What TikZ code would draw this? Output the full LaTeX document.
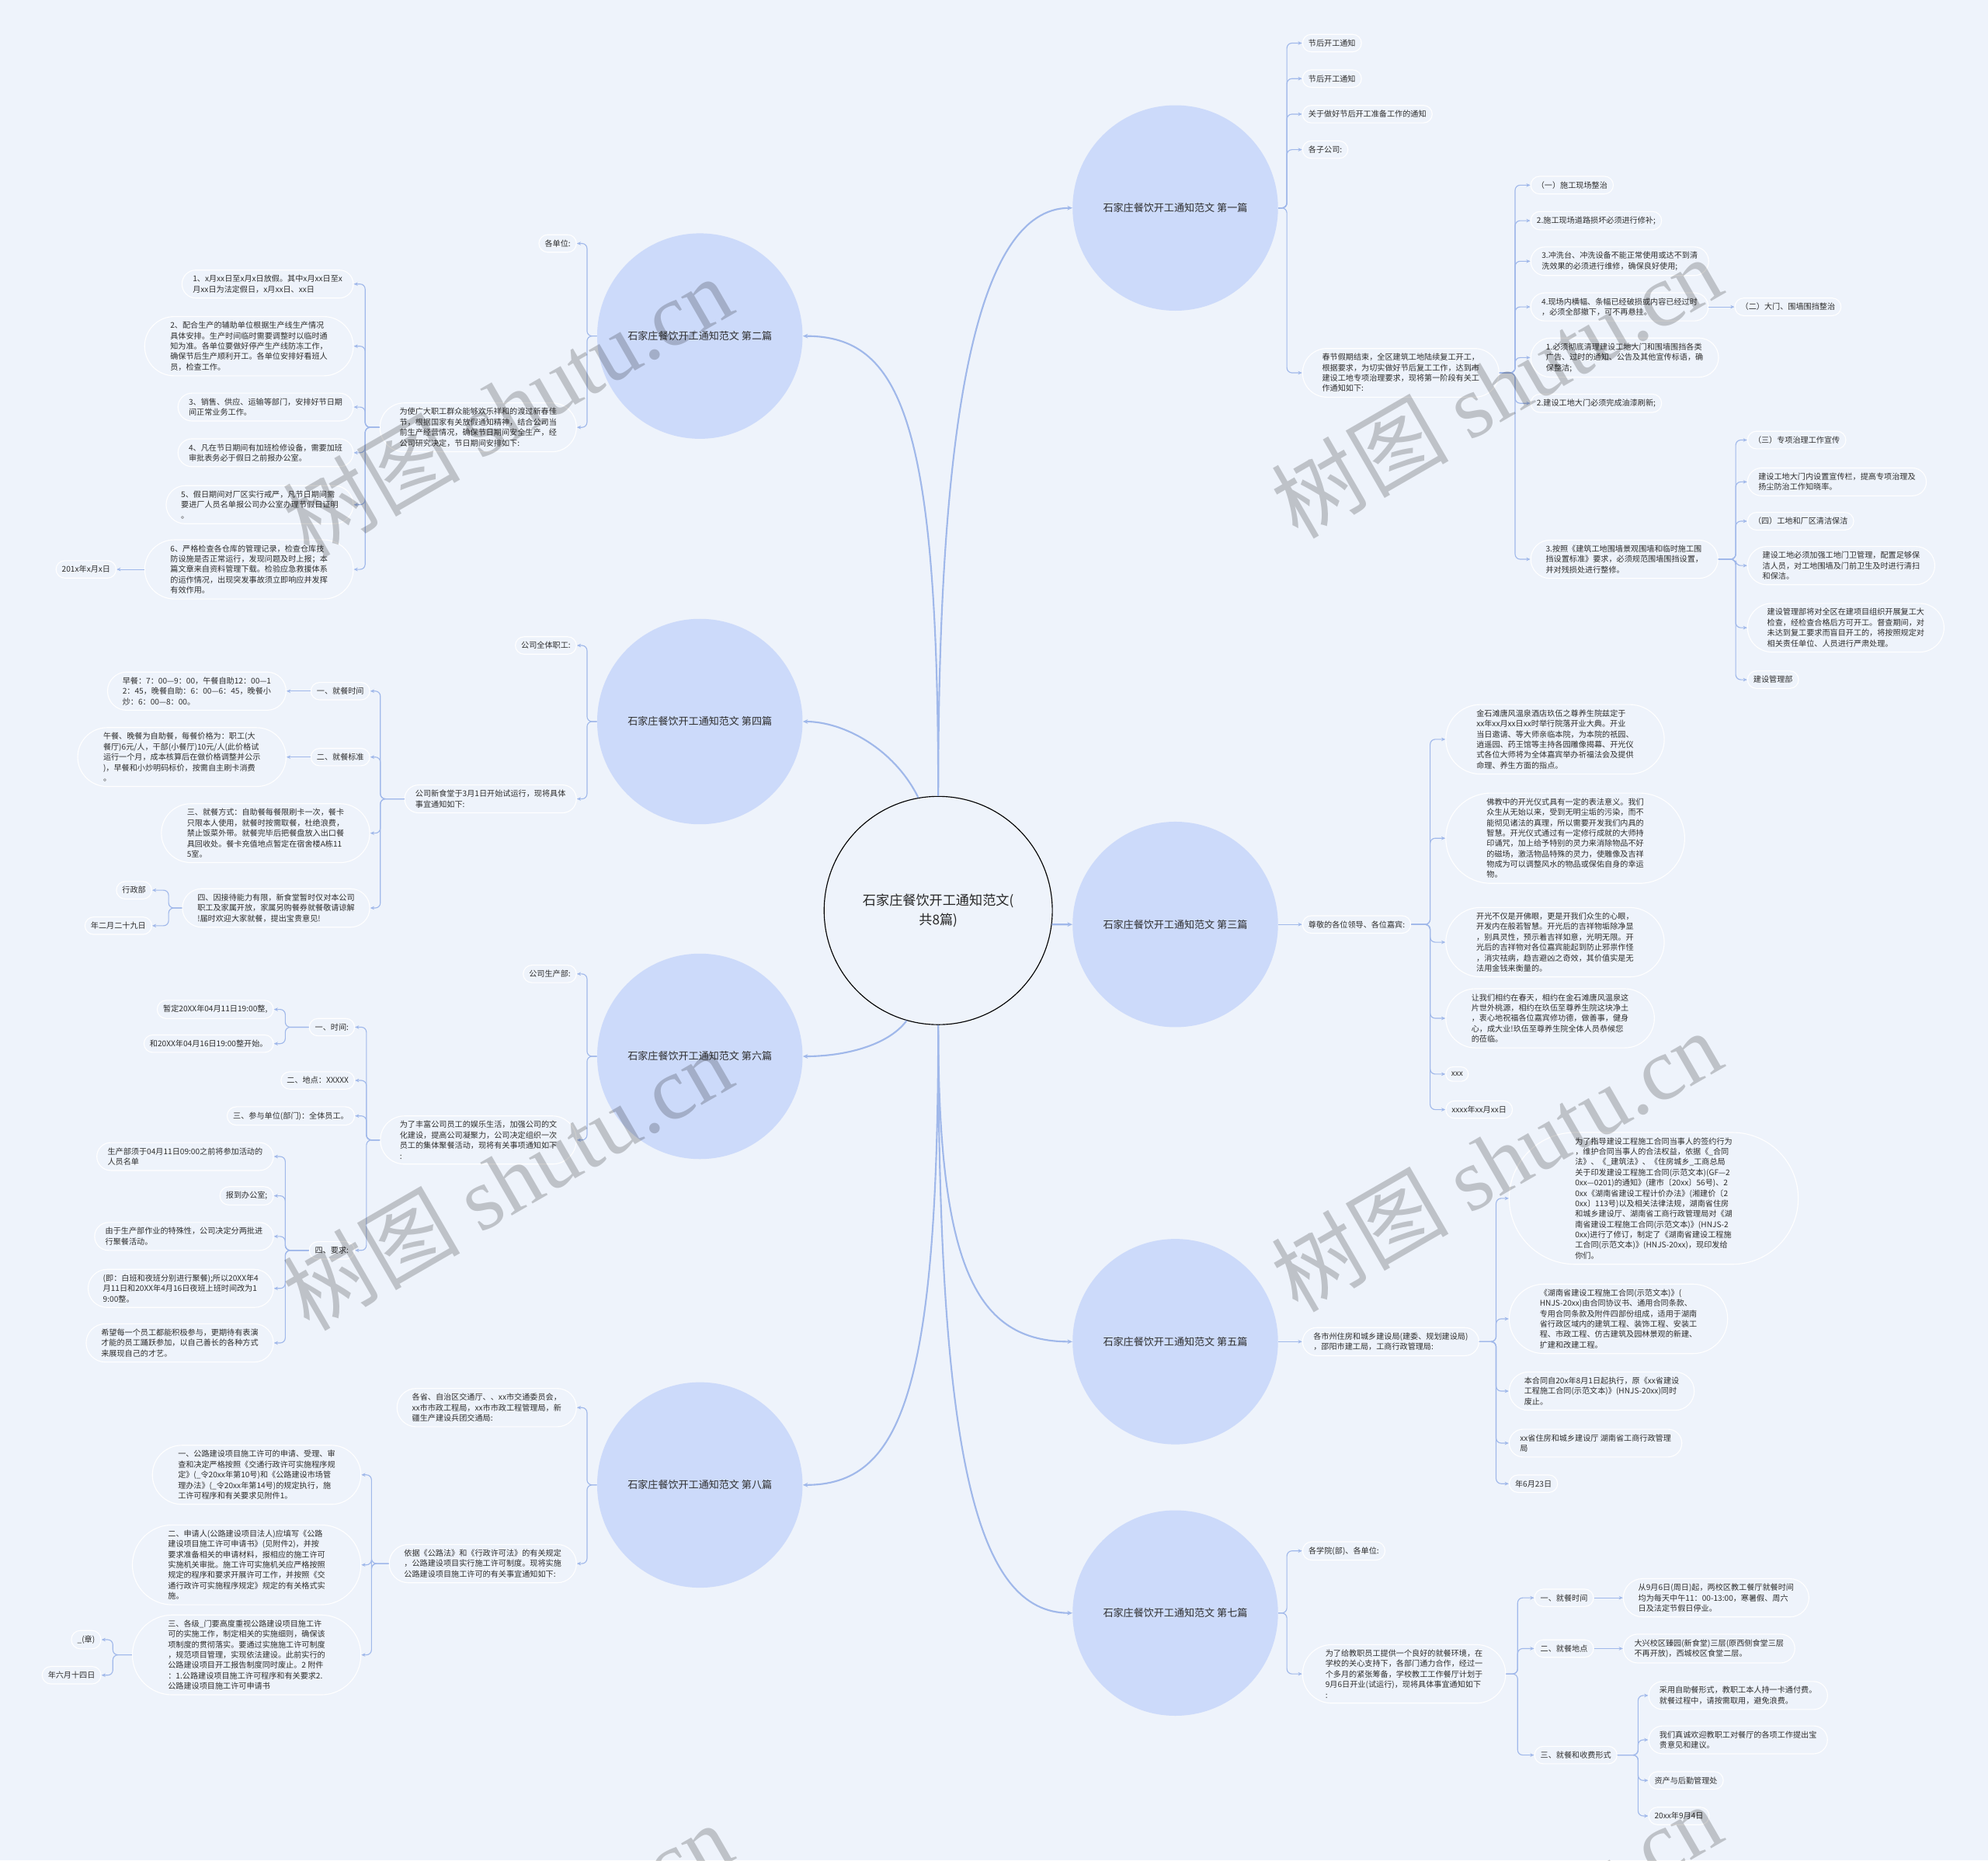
\documentclass[tikz,border=0pt]{standalone}
\usepackage{fontspec}
\setmainfont{Noto Sans CJK SC}
\newfontfamily\wmlatin{Liberation Serif}
\usetikzlibrary{arrows.meta,shapes.misc}
\definecolor{bgc}{HTML}{EEF3FB}
\definecolor{topicc}{HTML}{CCDAFA}
\definecolor{connc}{HTML}{A0B8EA}
\definecolor{txtc}{HTML}{2E2E2E}
\newcommand\leaffont{\fontsize{6.2}{8.2}\selectfont}
\newcommand\topicfont{\fontsize{8}{10}\selectfont}
\newcommand\rootfont{\fontsize{10.5}{15}\selectfont}
\newcommand\brR[3]{\coordinate (sp) at (#1,0); \draw[conn] (#2.east) -- (#2.east -| sp) |- (#3.west);}
\newcommand\brL[3]{\coordinate (sp) at (#1,0); \draw[conn] (#2.west) -- (#2.west -| sp) |- (#3.east);}
\begin{document}
\begin{tikzpicture}[x=1pt,y=-1pt,
 leaf/.style={rounded rectangle, draw=white, line width=0.7pt, fill=bgc, text=txtc, font=\leaffont, align=left, inner xsep=4pt, inner ysep=4pt},
 pad/.style={inner xsep=#1pt},
 rl/.style={leaf, anchor=west},
 ll/.style={leaf, anchor=east},
 topic/.style={circle, fill=topicc, minimum size=162pt, inner sep=0pt, font=\topicfont, text=txtc},
 root/.style={circle, draw=black, line width=0.7pt, fill=bgc, minimum size=180pt, inner sep=0pt, align=center, font=\rootfont, text=black!85},
 conn/.style={draw=connc, line width=0.7pt, rounded corners=4pt, -{Stealth[length=3.2pt,width=2.8pt]}},
 straightconn/.style={draw=connc, line width=0.7pt, -{Stealth[length=3.2pt,width=2.8pt]}},
 mainconn/.style={draw=connc, line width=1.3pt, -{Stealth[length=4pt,width=3.5pt]}},
 wm/.style={rotate=30, text=black, text opacity=0.2, font=\fontsize{70}{70}\selectfont}
]
\fill[bgc] (0,0) rectangle (1568,1467);
\useasboundingbox (0,0) rectangle (1568,1467);

% root and topics
\node[root] (c) at (740,718) {石家庄餐饮开工通知范文(\\共8篇)};
\node[topic] (t1) at (927,164) {石家庄餐饮开工通知范文 第一篇};
\node[topic] (t3) at (927,729) {石家庄餐饮开工通知范文 第三篇};
\node[topic] (t5) at (927,1058) {石家庄餐饮开工通知范文 第五篇};
\node[topic] (t7) at (927,1272) {石家庄餐饮开工通知范文 第七篇};
\node[topic] (t2) at (552,265) {石家庄餐饮开工通知范文 第二篇};
\node[topic] (t4) at (552,569) {石家庄餐饮开工通知范文 第四篇};
\node[topic] (t6) at (552,833) {石家庄餐饮开工通知范文 第六篇};
\node[topic] (t8) at (552,1171) {石家庄餐饮开工通知范文 第八篇};

\draw[mainconn] (c.north) .. controls (740,330) and (770,164) .. (t1.west);
\draw[mainconn] (c.north) .. controls (740,330) and (710,265) .. (t2.east);
\draw[mainconn] (c.-7) -- (t3.west);
\draw[mainconn] (c.100) .. controls (705,590) and (665,569) .. (t4.east);
\draw[mainconn] (c.south) .. controls (740,1000) and (770,1058) .. (t5.west);
\draw[mainconn] (c.254) .. controls (700,825) and (665,833) .. (t6.east);
\draw[mainconn] (c.south) .. controls (740,1150) and (770,1272) .. (t7.west);
\draw[mainconn] (c.south) .. controls (740,1100) and (710,1171) .. (t8.east);

% ---------- 第一篇 ----------
\node[rl] (a1) at (1027,34) {节后开工通知};
\node[rl] (a2) at (1027,62) {节后开工通知};
\node[rl] (a3) at (1027,90) {关于做好节后开工准备工作的通知};
\node[rl] (a4) at (1027,118) {各子公司:};
\node[rl,pad=8] (a5) at (1027,294) {春节假期结束，全区建筑工地陆续复工开工，\\根据要求，为切实做好节后复工工作，达到市\\建设工地专项治理要求，现将第一阶段有关工\\作通知如下:};
\node[rl] (b1) at (1207,146) {（一）施工现场整治};
\node[rl] (b2) at (1207,174) {2.施工现场道路损坏必须进行修补;};
\node[rl,pad=6] (b3) at (1207,206) {3.冲洗台、冲洗设备不能正常使用或达不到清\\洗效果的必须进行维修，确保良好使用;};
\node[rl,pad=6] (b4) at (1207,242) {4.现场内横幅、条幅已经破损或内容已经过时\\，必须全部撤下，可不再悬挂。};
\node[rl] (b5) at (1368,242) {（二）大门、围墙围挡整治};
\node[rl,pad=7] (b6) at (1207,282) {1.必须彻底清理建设工地大门和围墙围挡各类\\广告、过时的通知、公告及其他宣传标语，确\\保整洁;};
\node[rl] (b7) at (1207,318) {2.建设工地大门必须完成油漆刷新;};
\node[rl,pad=7] (b8) at (1207,441) {3.按照《建筑工地围墙景观围墙和临时施工围\\挡设置标准》要求，必须规范围墙围挡设置，\\并对残损处进行整修。};
\node[rl] (c1) at (1378,347) {（三）专项治理工作宣传};
\node[rl,pad=6] (c2) at (1378,380) {建设工地大门内设置宣传栏，提高专项治理及\\扬尘防治工作知晓率。};
\node[rl] (c3) at (1378,411) {（四）工地和厂区清洁保洁};
\node[rl,pad=7] (c4) at (1378,446) {建设工地必须加强工地门卫管理，配置足够保\\洁人员，对工地围墙及门前卫生及时进行清扫\\和保洁。};
\node[rl,pad=8] (c5) at (1378,495) {建设管理部将对全区在建项目组织开展复工大\\检查，经检查合格后方可开工。督查期间，对\\未达到复工要求而盲目开工的，将按照规定对\\相关责任单位、人员进行严肃处理。};
\node[rl] (c6) at (1378,536) {建设管理部};
\foreach \n in {a1,a2,a3,a4,a5} {\brR{1015}{t1}{\n}}
\foreach \n in {b1,b2,b3,b4,b6,b7,b8} {\brR{1195}{a5}{\n}}
\draw[straightconn] (b4.east) -- (b5.west);
\foreach \n in {c1,c2,c3,c4,c5,c6} {\brR{1369}{b8}{\n}}

% ---------- 第三篇 ----------
\node[rl] (d0) at (1027,729) {尊敬的各位领导、各位嘉宾:};
\node[rl,pad=11] (d1) at (1140,583) {金石滩唐风温泉酒店玖伍之尊养生院兹定于\\xx年xx月xx日xx时举行院落开业大典。开业\\当日邀请、等大师亲临本院，为本院的祇园、\\逍遥园、药王馆等主持各园雕像揭幕、开光仪\\式各位大师将为全体嘉宾举办祈福法会及提供\\命理、养生方面的指点。};
\node[rl,pad=13] (d2) at (1140,661) {佛教中的开光仪式具有一定的表法意义。我们\\众生从无始以来，受到无明尘垢的污染，而不\\能彻见诸法的真理，所以需要开发我们内具的\\智慧。开光仪式通过有一定修行成就的大师持\\印诵咒，加上给予特别的灵力来消除物品不好\\的磁场，激活物品特殊的灵力，使雕像及吉祥\\物成为可以调整风水的物品或保佑自身的幸运\\物。};
\node[rl,pad=11] (d3) at (1140,743) {开光不仅是开佛眼，更是开我们众生的心眼，\\开发内在般若智慧。开光后的吉祥物垢除净显\\，别具灵性，预示着吉祥如意，光明无限。开\\光后的吉祥物对各位嘉宾能起到防止邪祟作怪\\，消灾祛病，趋吉避凶之奇效，其价值实是无\\法用金钱来衡量的。};
\node[rl,pad=10] (d4) at (1140,803) {让我们相约在春天，相约在金石滩唐风温泉这\\片世外桃源，相约在玖伍至尊养生院这块净土\\，衷心地祝福各位嘉宾修功德，做善事，健身\\心，成大业!玖伍至尊养生院全体人员恭候您\\的莅临。};
\node[rl] (d5) at (1140,847) {xxx};
\node[rl] (d6) at (1140,875) {xxxx年xx月xx日};
\draw[straightconn] (t3.east) -- (d0.west);
\foreach \n in {d1,d2,d3,d4,d5,d6} {\brR{1128}{d0}{\n}}

% ---------- 第五篇 ----------
\node[rl,pad=6] (e0) at (1027,1058) {各市州住房和城乡建设局(建委、规划建设局)\\，邵阳市建工局，工商行政管理局:};
\node[rl,pad=20] (e1) at (1190,945) {为了指导建设工程施工合同当事人的签约行为\\，维护合同当事人的合法权益，依据《\_合同\\法》、《\_建筑法》、《住房城乡\_工商总局\\关于印发建设工程施工合同(示范文本)(GF—2\\0xx—0201)的通知》(建市〔20xx〕56号)、2\\0xx《湖南省建设工程计价办法》(湘建价〔2\\0xx〕113号)以及相关法律法规，湖南省住房\\和城乡建设厅、湖南省工商行政管理局对《湖\\南省建设工程施工合同(示范文本)》(HNJS-2\\0xx)进行了修订，制定了《湖南省建设工程施\\工合同(示范文本)》(HNJS-20xx)，现印发给\\你们。};
\node[rl,pad=11] (e2) at (1190,1040) {《湖南省建设工程施工合同(示范文本)》(\\HNJS-20xx)由合同协议书、通用合同条款、\\专用合同条款及附件四部份组成，适用于湖南\\省行政区域内的建筑工程、装饰工程、安装工\\程、市政工程、仿古建筑及园林景观的新建、\\扩建和改建工程。};
\node[rl,pad=7] (e3) at (1190,1097) {本合同自20x年8月1日起执行，原《xx省建设\\工程施工合同(示范文本)》(HNJS-20xx)同时\\废止。};
\node[rl,pad=6] (e4) at (1190,1138) {xx省住房和城乡建设厅 湖南省工商行政管理\\局};
\node[rl] (e5) at (1190,1170) {年6月23日};
\draw[straightconn] (t5.east) -- (e0.west);
\foreach \n in {e1,e2,e3,e4,e5} {\brR{1180}{e0}{\n}}

% ---------- 第七篇 ----------
\node[rl] (f1) at (1027,1223) {各学院(部)、各单位:};
\node[rl,pad=8] (f2) at (1027,1320) {为了给教职员工提供一个良好的就餐环境，在\\学校的关心支持下，各部门通力合作，经过一\\个多月的紧张筹备，学校教工工作餐厅计划于\\9月6日开业(试运行)，现将具体事宜通知如下\\:};
\node[rl] (g1) at (1210,1260) {一、就餐时间};
\node[rl,pad=7] (g1a) at (1280,1260) {从9月6日(周日)起，两校区教工餐厅就餐时间\\均为每天中午11：00-13:00，寒暑假、周六\\日及法定节假日停业。};
\node[rl] (g2) at (1210,1300) {二、就餐地点};
\node[rl,pad=6] (g2a) at (1280,1300) {大兴校区臻园(新食堂)三层(原西侧食堂三层\\不再开放)，西城校区食堂二层。};
\node[rl] (g3) at (1210,1384) {三、就餐和收费形式};
\node[rl,pad=6] (h1) at (1300,1337) {采用自助餐形式，教职工本人持一卡通付费。\\就餐过程中，请按需取用，避免浪费。};
\node[rl,pad=6] (h2) at (1300,1372) {我们真诚欢迎教职工对餐厅的各项工作提出宝\\贵意见和建议。};
\node[rl] (h3) at (1300,1404) {资产与后勤管理处};
\node[rl] (h4) at (1300,1432) {20xx年9月4日};
\foreach \n in {f1,f2} {\brR{1015}{t7}{\n}}
\foreach \n in {g1,g2,g3} {\brR{1197}{f2}{\n}}
\draw[straightconn] (g1.east) -- (g1a.west);
\draw[straightconn] (g2.east) -- (g2a.west);
\foreach \n in {h1,h2,h3,h4} {\brR{1292}{g3}{\n}}

% ---------- 第二篇 ----------
\node[ll] (i1) at (455,192) {各单位:};
\node[ll,pad=8] (i2) at (455,337) {为使广大职工群众能够欢乐祥和的渡过新春佳\\节，根据国家有关放假通知精神，结合公司当\\前生产经营情况，确保节日期间安全生产，经\\公司研究决定，节日期间安排如下:};
\node[ll,pad=6] (j1) at (279,224) {1、x月xx日至x月x日放假。其中x月xx日至x\\月xx日为法定假日，x月xx日、xx日};
\node[ll,pad=10] (j2) at (279,273) {2、配合生产的辅助单位根据生产线生产情况\\具体安排。生产时间临时需要调整时以临时通\\知为准。各单位要做好停产生产线防冻工作，\\确保节后生产顺利开工。各单位安排好看班人\\员，检查工作。};
\node[ll,pad=6] (j3) at (279,321) {3、销售、供应、运输等部门，安排好节日期\\间正常业务工作。};
\node[ll,pad=6] (j4) at (279,357) {4、凡在节日期间有加班检修设备，需要加班\\审批表务必于假日之前报办公室。};
\node[ll,pad=7] (j5) at (279,398) {5、假日期间对厂区实行戒严，凡节日期间需\\要进厂人员名单报公司办公室办理节假日证明\\。};
\node[ll,pad=10] (j6) at (279,449) {6、严格检查各仓库的管理记录，检查仓库技\\防设施是否正常运行，发现问题及时上报；本\\篇文章来自资料管理下载。检验应急救援体系\\的运作情况，出现突发事故须立即响应并发挥\\有效作用。};
\node[ll] (j7) at (92,449) {201x年x月x日};
\foreach \n in {i1,i2} {\brL{463}{t2}{\n}}
\foreach \n in {j1,j2,j3,j4,j5,j6} {\brL{288}{i2}{\n}}
\draw[straightconn] (j6.west) -- (j7.east);

% ---------- 第四篇 ----------
\node[ll] (k1) at (455,509) {公司全体职工:};
\node[ll,pad=6] (k2) at (455,630) {公司新食堂于3月1日开始试运行，现将具体\\事宜通知如下:};
\node[ll] (l1) at (292,545) {一、就餐时间};
\node[ll,pad=7] (l1a) at (226,545) {早餐：7：00—9：00，午餐自助12：00—1\\2：45，晚餐自助：6：00—6：45，晚餐小\\炒：6：00—8：00。};
\node[ll] (l2) at (292,597) {二、就餐标准};
\node[ll,pad=10] (l2a) at (226,597) {午餐、晚餐为自助餐，每餐价格为：职工(大\\餐厅)6元/人，干部(小餐厅)10元/人(此价格试\\运行一个月，成本核算后在做价格调整并公示\\)，早餐和小炒明码标价，按需自主刷卡消费\\。};
\node[ll,pad=10] (l3) at (292,657) {三、就餐方式：自助餐每餐限刷卡一次，餐卡\\只限本人使用，就餐时按需取餐，杜绝浪费，\\禁止饭菜外带。就餐完毕后把餐盘放入出口餐\\具回收处。餐卡充值地点暂定在宿舍楼A栋11\\5室。};
\node[ll,pad=7] (l4) at (292,716) {四、因接待能力有限，新食堂暂时仅对本公司\\职工及家属开放，家属另购餐券就餐敬请谅解\\!届时欢迎大家就餐，提出宝贵意见!};
\node[ll] (m1) at (120,702) {行政部};
\node[ll] (m2) at (120,730) {年二月二十九日};
\foreach \n in {k1,k2} {\brL{463}{t4}{\n}}
\foreach \n in {l1,l2,l3,l4} {\brL{300}{k2}{\n}}
\draw[straightconn] (l1.west) -- (l1a.east);
\draw[straightconn] (l2.west) -- (l2a.east);
\foreach \n in {m1,m2} {\brL{133}{l4}{\n}}

% ---------- 第六篇 ----------
\node[ll] (n1) at (455,768) {公司生产部:};
\node[ll,pad=8] (n2) at (455,899) {为了丰富公司员工的娱乐生活，加强公司的文\\化建设，提高公司凝聚力，公司决定组织一次\\员工的集体聚餐活动，现将有关事项通知如下\\:};
\node[ll] (o1) at (280,810) {一、时间:};
\node[ll] (p1) at (216,796) {暂定20XX年04月11日19:00整,};
\node[ll] (p2) at (216,823) {和20XX年04月16日19:00整开始。};
\node[ll] (o2) at (280,852) {二、地点：XXXXX};
\node[ll] (o3) at (280,880) {三、参与单位(部门)：全体员工。};
\node[ll] (o4) at (280,986) {四、要求:};
\node[ll,pad=6] (q1) at (216,912) {生产部须于04月11日09:00之前将参加活动的\\人员名单};
\node[ll] (q2) at (216,943) {报到办公室;};
\node[ll,pad=6] (q3) at (216,975) {由于生产部作业的特殊性，公司决定分两批进\\行聚餐活动。};
\node[ll,pad=7] (q4) at (216,1016) {(即：白班和夜班分别进行聚餐);所以20XX年4\\月11日和20XX年4月16日夜班上班时间改为1\\9:00整。};
\node[ll,pad=7] (q5) at (216,1059) {希望每一个员工都能积极参与，更期待有表演\\才能的员工踊跃参加，以自己善长的各种方式\\来展现自己的才艺。};
\foreach \n in {n1,n2} {\brL{463}{t6}{\n}}
\foreach \n in {o1,o2,o3,o4} {\brL{289}{n2}{\n}}
\foreach \n in {p1,p2} {\brL{225}{o1}{\n}}
\foreach \n in {q1,q2,q3,q4,q5} {\brL{225}{o4}{\n}}

% ---------- 第八篇 ----------
\node[ll,pad=7] (r1) at (455,1110) {各省、自治区交通厅、、xx市交通委员会，\\xx市市政工程局，xx市市政工程管理局，新\\疆生产建设兵团交通局:};
\node[ll,pad=7] (r2) at (455,1233) {依据《公路法》和《行政许可法》的有关规定\\，公路建设项目实行施工许可制度。现将实施\\公路建设项目施工许可的有关事宜通知如下:};
\node[ll,pad=10] (s1) at (285,1163) {一、公路建设项目施工许可的申请、受理、审\\查和决定严格按照《交通行政许可实施程序规\\定》(\_令20xx年第10号)和《公路建设市场管\\理办法》(\_令20xx年第14号)的规定执行，施\\工许可程序和有关要求见附件1。};
\node[ll,pad=12] (s2) at (285,1234) {二、申请人(公路建设项目法人)应填写《公路\\建设项目施工许可申请书》(见附件2)，并按\\要求准备相关的申请材料，报相应的施工许可\\实施机关审批。施工许可实施机关应严格按照\\规定的程序和要求开展许可工作，并按照《交\\通行政许可实施程序规定》规定的有关格式实\\施。};
\node[ll,pad=12] (s3) at (285,1305) {三、各级\_门要高度重视公路建设项目施工许\\可的实施工作，制定相关的实施细则，确保该\\项制度的贯彻落实。要通过实施施工许可制度\\，规范项目管理，实现依法建设。此前实行的\\公路建设项目开工报告制度同时废止。2 附件\\：1.公路建设项目施工许可程序和有关要求2.\\公路建设项目施工许可申请书};
\node[ll] (u1) at (80,1293) {\_(章)};
\node[ll] (u2) at (80,1321) {年六月十四日};
\foreach \n in {r1,r2} {\brL{463}{t8}{\n}}
\foreach \n in {s1,s2,s3} {\brL{293}{r2}{\n}}
\foreach \n in {u1,u2} {\brL{89}{s3}{\n}}

% ---------- watermarks ----------
\node[wm] (w1) at (400,320) {树图 {\wmlatin shutu.cn}};
\node[wm] (w2) at (1180,305) {树图 {\wmlatin shutu.cn}};
\node[wm] (w3) at (400,930) {树图 {\wmlatin shutu.cn}};
\node[wm] (w4) at (1180,915) {树图 {\wmlatin shutu.cn}};
\node[wm] (w5) at (400,1540) {树图 {\wmlatin shutu.cn}};
\node[wm] (w6) at (1180,1525) {树图 {\wmlatin shutu.cn}};
\end{tikzpicture}
\end{document}
